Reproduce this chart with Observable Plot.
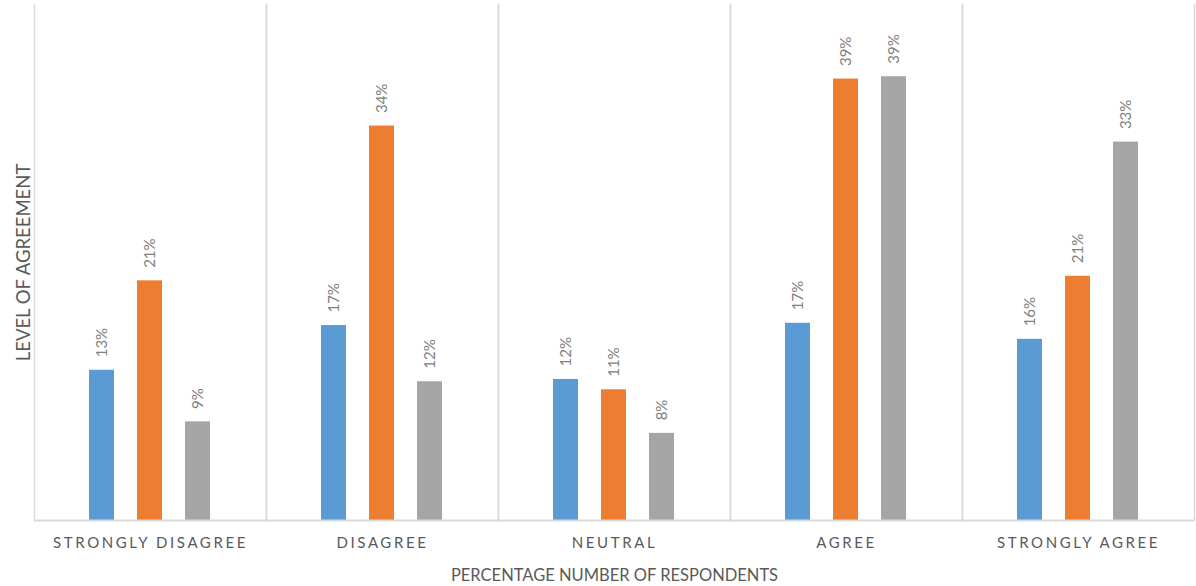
<!DOCTYPE html>
<html>
<head>
<meta charset="utf-8">
<script src="https://cdn.jsdelivr.net/npm/d3@7"></script>
<script src="https://cdn.jsdelivr.net/npm/@observablehq/plot@0.6"></script>
<style>
  body { margin: 0; background: #ffffff; }
  #chart g[aria-label="fx-axis tick label"] text { letter-spacing: 2.6px; }
  #chart g[aria-label="fx-axis label"] text { font-size: 16.5px; letter-spacing: 0; }
  #chart g[aria-label="y-axis label"] text { font-size: 18.5px; }
</style>
</head>
<body>
<div id="chart"></div>
<script>
// Level of agreement, in percent of respondents, for three respondent groups
const categories = ["STRONGLY DISAGREE", "DISAGREE", "NEUTRAL", "AGREE", "STRONGLY AGREE"];
const seriesNames = ["Series 1", "Series 2", "Series 3"];
const series1 = [13.1, 17.0, 12.3, 17.2, 15.8];
const series2 = [20.9, 34.4, 11.4, 38.5, 21.3];
const series3 = [8.6, 12.1, 7.6, 38.7, 33.0];
const seriesColors = ["#5b9bd5", "#ed7d31", "#a5a5a5"];

const seriesValues = [series1, series2, series3];
const rows = categories.flatMap((category, i) =>
  seriesNames.map((series, j) => ({category, series, value: seriesValues[j][i]}))
);

const gridStroke = "#d9d9d9";

const chart = Plot.plot({
  width: 1196,
  height: 586,
  marginTop: 4,
  marginRight: 1,
  marginBottom: 66,
  marginLeft: 32,
  style: {fontFamily: "Lato, 'Liberation Sans', sans-serif", color: "#595959", background: "#ffffff"},
  fx: {domain: categories, padding: 0},
  x: {domain: seriesNames, paddingInner: 0.479, paddingOuter: 1.156, align: 0.5, axis: null},
  y: {domain: [0, 45], axis: null},
  color: {domain: seriesNames, range: seriesColors},
  marks: [
    Plot.frame({anchor: "left", stroke: gridStroke, strokeWidth: 1.5}),
    Plot.frame({anchor: "right", stroke: gridStroke, strokeWidth: 1.5}),
    Plot.barY(rows, {fx: "category", x: "series", y: "value", fill: "series"}),
    Plot.ruleY([0], {stroke: gridStroke, strokeWidth: 2}),
    Plot.text(rows, {
      fx: "category", x: "series", y: "value",
      text: d => `${Math.round(d.value)}%`,
      rotate: -90, textAnchor: "start", dy: -13,
      fontSize: 15, fill: "#7f7f7f"
    }),
    Plot.axisFx({
      anchor: "bottom", tickSize: 0, tickPadding: 17, fontSize: 15,
      label: "PERCENTAGE NUMBER OF RESPONDENTS", labelAnchor: "center",
      labelOffset: 60, labelArrow: "none"
    }),
    Plot.axisY({
      anchor: "left", ticks: [0], tickSize: 0, tickFormat: () => "",
      label: "LEVEL OF AGREEMENT", labelAnchor: "center",
      labelOffset: 18, labelArrow: "none"
    })
  ]
});

document.getElementById("chart").append(chart);
</script>
</body>
</html>
